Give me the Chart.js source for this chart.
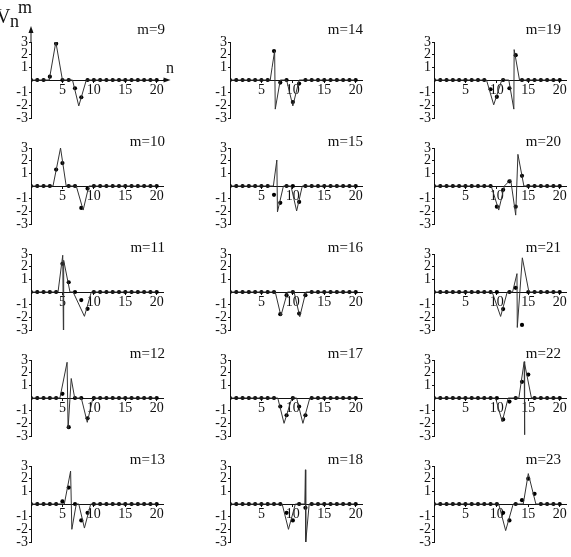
<!DOCTYPE html>
<html>
<head>
<meta charset="utf-8">
<script src="https://cdn.jsdelivr.net/npm/chart.js@4.4.1/dist/chart.umd.min.js"></script>
<style>
body{margin:0;background:#fff;width:571px;height:557px;position:relative;overflow:hidden;font-family:"Liberation Serif",serif;color:#111;}
canvas{position:absolute;}
.lab{position:absolute;font-size:15px;line-height:18px;white-space:nowrap;}
</style>
</head>
<body>
<script>
// n = 0..20, one dot per n
var nVals = [0,1,2,3,4,5,6,7,8,9,10,11,12,13,14,15,16,17,18,19,20];
var xTicks = [5,10,15,20];
var yTicks = [-3,-2,-1,1,2,3];

// dot values V_n^m, and the thin curve as [n, v] pairs
var dots9  = [0,0,0,0.26,2.87,0,0,-0.65,-1.36,0,0,0,0,0,0,0,0,0,0,0,0];
var curve9 = [[0,0],[2.9,0],[3.95,3.0],[5.0,0],[6.6,0],[7.6,-2.05],[8.8,0],[20,0]];
var dots10  = [0,0,0,0,1.3,1.81,0,0,-1.73,-0.2,0,0,0,0,0,0,0,0,0,0,0];
var curve10 = [[0,0],[3.5,0],[4.7,3.0],[5.6,0],[7.2,0],[8.3,-1.9],[9.2,0],[20,0]];
var dots11  = [0,0,0,0,0,2.23,0.77,0,-0.64,-1.33,0,0,0,0,0,0,0,0,0,0,0];
var curve11 = [[0,0],[4.3,0],[5.05,2.9],[5.15,-3.0],[5.2,2.5],[6.2,0],[6.7,0],[8.5,-1.92],[9.6,0],[20,0]];
var dots12  = [0,0,0,0,0,0.33,-2.3,0,0,-1.6,0,0,0,0,0,0,0,0,0,0,0];
var curve12 = [[0,0],[4.6,0],[5.74,2.82],[5.9,-2.4],[6.4,1.54],[6.95,0],[8.0,0],[8.95,-1.92],[9.85,0],[20,0]];
var dots13  = [0,0,0,0,0,0.2,1.3,0,-1.3,-0.7,0,0,0,0,0,0,0,0,0,0,0];
var curve13 = [[0,0],[5.3,0],[6.3,2.6],[6.5,-2.0],[7.2,0],[7.6,0],[8.5,-1.9],[9.5,0],[20,0]];
var dots14  = [0,0,0,0,0,0,0,2.28,-0.2,0,-1.74,-0.28,0,0,0,0,0,0,0,0,0];
var curve14 = [[0,0],[6.4,0],[6.7,1.0],[7.1,2.3],[7.2,-2.3],[8.0,0],[9.0,0],[10.0,-2.05],[11.0,0],[20,0]];
var dots15  = [0,0,0,0,0,0,0,-0.7,-1.33,0,0,-1.26,0,0,0,0,0,0,0,0,0];
var curve15 = [[0,0],[6.9,0],[7.45,2.05],[7.55,-2.05],[8.5,0],[9.7,0],[10.6,-1.97],[11.5,0],[20,0]];
var dots16  = [0,0,0,0,0,0,0,0,-1.75,-0.25,0,-1.7,-0.25,0,0,0,0,0,0,0,0];
var curve16 = [[0,0],[7.2,0],[8.1,-1.88],[9.15,0],[10.2,0],[11.1,-1.95],[12.06,0],[20,0]];
var dots17  = [0,0,0,0,0,0,0,0,-0.67,-1.36,0,-0.67,-1.36,0,0,0,0,0,0,0,0];
var curve17 = [[0,0],[7.6,0],[8.6,-2.0],[9.85,0],[10.6,0],[11.6,-2.0],[12.7,0],[20,0]];
var dots18  = [0,0,0,0,0,0,0,0,0,-0.7,-1.3,0,-0.3,0,0,0,0,0,0,0,0];
var curve18 = [[0,0],[8.3,0],[9.3,-2.0],[10.4,0],[11.9,0],[12.0,2.7],[12.05,-3.0],[12.6,0],[20,0]];
var dots19  = [0,0,0,0,0,0,0,0,0,-0.73,-1.33,0,-0.65,1.96,0,0,0,0,0,0,0];
var curve19 = [[0,0],[8.35,0],[9.5,-1.96],[10.85,0.1],[11.2,0],[11.9,0],[12.7,-2.3],[12.75,2.4],[13.6,0],[20,0]];
var dots20  = [0,0,0,0,0,0,0,0,0,0,-1.63,-0.3,0.37,-1.63,0.8,0,0,0,0,0,0];
var curve20 = [[0,0],[9.1,0],[10.3,-1.9],[11.2,0],[12.2,0.5],[13.0,-2.3],[13.35,2.5],[14.3,0],[20,0]];
var dots21  = [0,0,0,0,0,0,0,0,0,0,0,-1.35,0,0.33,-2.6,0,0,0,0,0,0];
var curve21 = [[0,0],[9.25,0],[10.6,-1.93],[11.65,0],[12.5,0],[13.2,1.45],[13.25,-2.8],[14.05,2.7],[15.1,0],[20,0]];
var dots22  = [0,0,0,0,0,0,0,0,0,0,0,-1.69,-0.28,0,1.28,1.85,0,0,0,0,0];
var curve22 = [[0,0],[9.8,0],[10.85,-1.87],[11.8,0],[13.5,0],[14.35,2.87],[14.4,-2.9],[14.45,2.7],[15.5,0],[20,0]];
var dots23  = [0,0,0,0,0,0,0,0,0,0,0,-0.7,-1.3,0,0.3,2.0,0.8,0,0,0,0];
var curve23 = [[0,0],[10.3,0],[11.4,-2.1],[12.6,0],[14.2,0],[15.0,2.4],[16.2,0],[20,0]];

var panels = [
  {m:9,  dots:dots9,  curve:curve9,  col:0, row:0},
  {m:10, dots:dots10, curve:curve10, col:0, row:1},
  {m:11, dots:dots11, curve:curve11, col:0, row:2},
  {m:12, dots:dots12, curve:curve12, col:0, row:3},
  {m:13, dots:dots13, curve:curve13, col:0, row:4},
  {m:14, dots:dots14, curve:curve14, col:1, row:0},
  {m:15, dots:dots15, curve:curve15, col:1, row:1},
  {m:16, dots:dots16, curve:curve16, col:1, row:2},
  {m:17, dots:dots17, curve:curve17, col:1, row:3},
  {m:18, dots:dots18, curve:curve18, col:1, row:4},
  {m:19, dots:dots19, curve:curve19, col:2, row:0},
  {m:20, dots:dots20, curve:curve20, col:2, row:1},
  {m:21, dots:dots21, curve:curve21, col:2, row:2},
  {m:22, dots:dots22, curve:curve22, col:2, row:3},
  {m:23, dots:dots23, curve:curve23, col:2, row:4}
];

var axisX = [31, 230, 434];
var zeroY = [80, 186, 292, 398, 504];
var labRight = [165, 363, 561];
var serif = "'Liberation Serif', 'DejaVu Serif', serif";

// arrows on the first panel only
var arrowPlugin = {
  id: 'arrows',
  afterDraw: function(chart) {
    if (!chart.options.plugins.arrows.on) return;
    var ctx = chart.ctx, xs = chart.scales.x, ys = chart.scales.y;
    var x0 = xs.getPixelForValue(0), y0 = ys.getPixelForValue(0);
    var top = chart.chartArea.top, tipY = top - 16;
    var xEnd = xs.getPixelForValue(21), tipX = xs.getPixelForValue(22.2);
    ctx.save();
    ctx.strokeStyle = '#111'; ctx.fillStyle = '#111'; ctx.lineWidth = 1;
    ctx.beginPath(); ctx.moveTo(x0, top); ctx.lineTo(x0, tipY + 4); ctx.stroke();
    ctx.beginPath(); ctx.moveTo(x0, tipY); ctx.lineTo(x0 - 2.5, tipY + 7); ctx.lineTo(x0 + 2.5, tipY + 7); ctx.closePath(); ctx.fill();
    ctx.beginPath(); ctx.moveTo(xEnd, y0); ctx.lineTo(tipX - 4, y0); ctx.stroke();
    ctx.beginPath(); ctx.moveTo(tipX, y0); ctx.lineTo(tipX - 7, y0 - 2.5); ctx.lineTo(tipX - 7, y0 + 2.5); ctx.closePath(); ctx.fill();
    ctx.restore();
  }
};

function addLabel(text, left, top, right, size) {
  var d = document.createElement('div');
  d.className = 'lab';
  d.textContent = text;
  if (right !== null) d.style.right = (571 - right) + 'px'; else d.style.left = left + 'px';
  d.style.top = top + 'px';
  if (size) { d.style.fontSize = size + 'px'; d.style.lineHeight = size + 'px'; }
  document.body.appendChild(d);
}

panels.forEach(function(p) {
  var cv = document.createElement('canvas');
  var left = axisX[p.col] - 26, top = zeroY[p.row] - 38 - 24;
  cv.width = 180; cv.height = 112;
  cv.style.left = left + 'px'; cv.style.top = top + 'px';
  cv.style.width = '180px'; cv.style.height = '112px';
  document.body.appendChild(cv);

  new Chart(cv.getContext('2d'), {
    type: 'scatter',
    data: {
      datasets: [
        {
          data: p.curve.map(function(q){ return {x:q[0], y:q[1]}; }),
          showLine: true, borderColor: '#333', borderWidth: 1,
          pointRadius: 0, tension: 0, fill: false
        },
        {
          data: nVals.map(function(n, i){ return {x:n, y:p.dots[i]}; }),
          showLine: false, pointRadius: 2.1, pointBackgroundColor: '#000',
          pointBorderWidth: 0
        }
      ]
    },
    options: {
      responsive: false, animation: false, devicePixelRatio: 1,
      layout: { padding: { left: 0, top: 24, right: 22, bottom: 12 } },
      plugins: { legend: {display:false}, tooltip: {enabled:false}, arrows: { on: p.m === 9 } },
      scales: {
        x: {
          type: 'linear', min: 0, max: 21, position: { y: 0 },
          afterBuildTicks: function(s){ s.ticks = xTicks.map(function(v){ return {value:v}; }); },
          ticks: { color: '#111', padding: 0, maxRotation: 0, autoSkip: false, font: { family: serif, size: 14 } },
          grid: { drawOnChartArea: false, tickLength: 2, color: '#111' },
          border: { color: '#111', width: 1 }
        },
        y: {
          type: 'linear', min: -3, max: 3, position: 'left',
          afterFit: function(s){ s.width = 26; },
          afterBuildTicks: function(s){ s.ticks = yTicks.map(function(v){ return {value:v}; }); },
          ticks: { color: '#111', padding: 1, autoSkip: false, font: { family: serif, size: 14 } },
          grid: { drawOnChartArea: false, tickLength: 2, color: '#111' },
          border: { color: '#111', width: 1 }
        }
      }
    },
    plugins: [arrowPlugin]
  });

  addLabel('m=' + p.m, null, zeroY[p.row] - (p.row === 0 ? 60 : 54), labRight[p.col]);
});

// axis titles
addLabel('V', -4, 6, null, 20);
addLabel('n', 10, 12, null, 18);
addLabel('m', 18, -2, null, 18);
addLabel('n', 166, 60, null, 16);
</script>
</body>
</html>
